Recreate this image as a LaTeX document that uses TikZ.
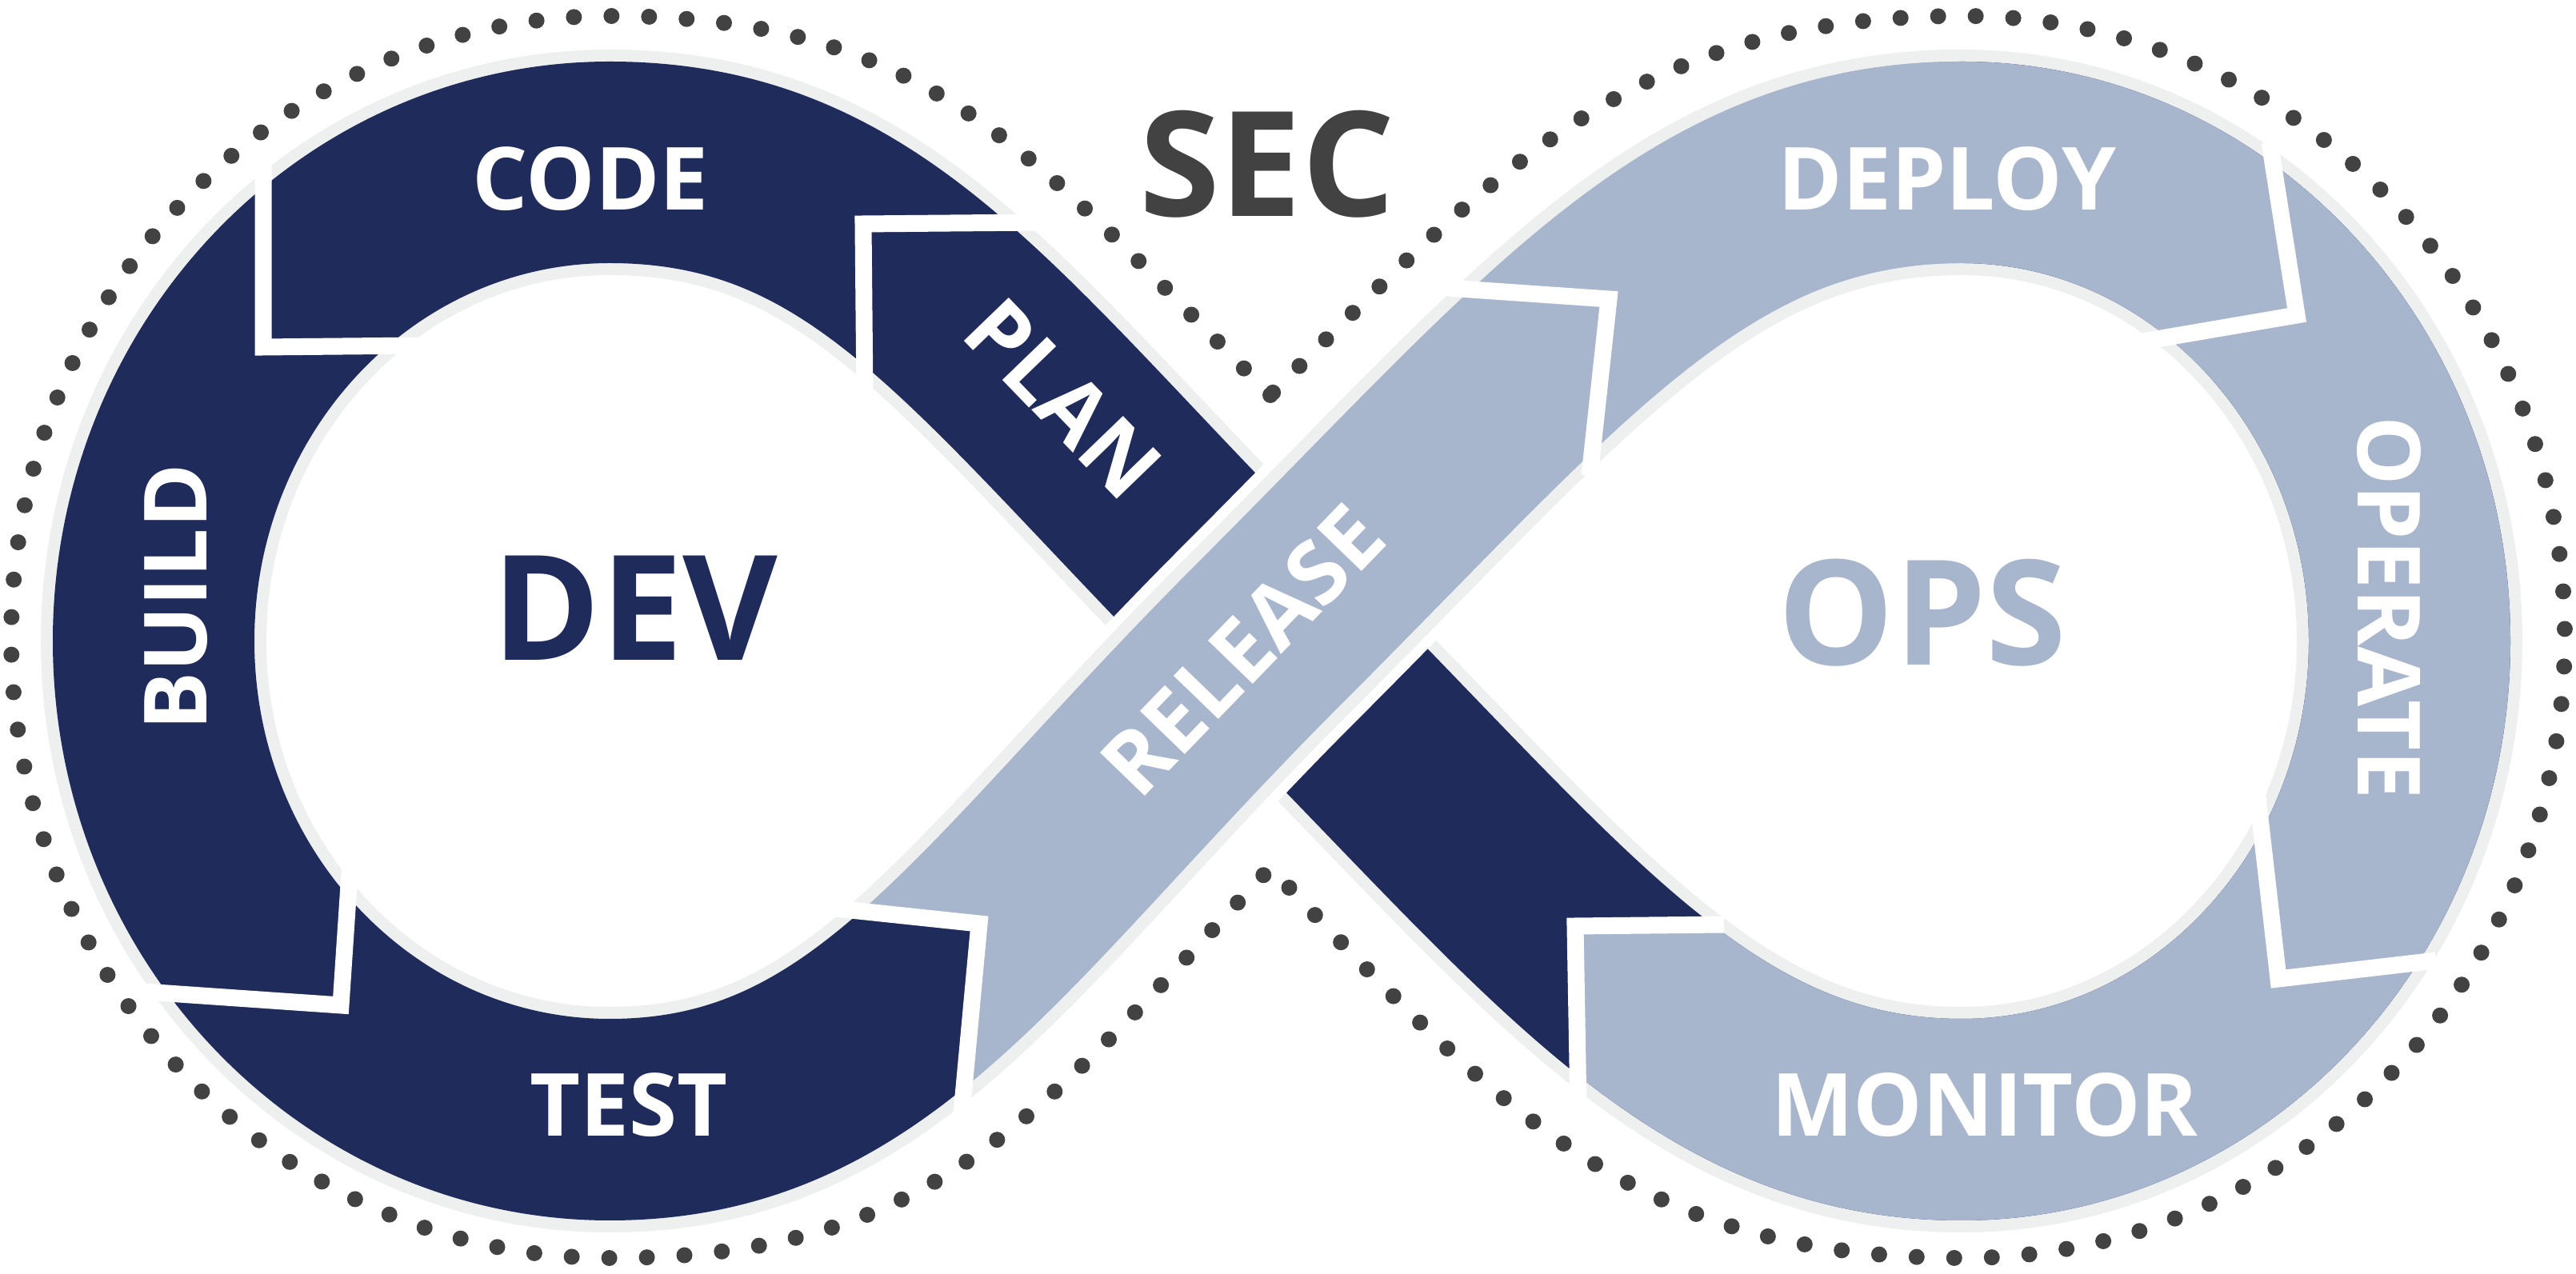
\documentclass[tikz,border=0pt]{standalone}
\usepackage{fontspec}
\setsansfont{Open Sans}
\definecolor{devnavy}{RGB}{31,43,91}
\definecolor{opsgrey}{RGB}{167,181,205}
\definecolor{rimgrey}{RGB}{238,239,239}
\definecolor{secgrey}{RGB}{66,66,66}

\begin{document}
\begin{tikzpicture}[
  steplabel/.style={text=white,inner sep=0pt,font=\sffamily\bfseries\fontsize{31}{31}\selectfont},
  hub/.style={inner sep=0pt,font=\sffamily\bfseries\fontsize{52}{52}\selectfont},
  cutline/.style={white,line width=0.21cm,line join=miter},
  band/.style={line width=2.52cm}
]
\useasboundingbox (0,0) rectangle (32.2,15.93);

% turning points of the loop
\coordinate (c) at (15.88,8.02);
\coordinate (tl) at (7.62,13.90);
\coordinate (l) at (1.92,7.915);
\coordinate (bl) at (7.62,1.93);
\coordinate (tr) at (24.52,13.90);
\coordinate (r) at (30.12,7.915);
\coordinate (br) at (24.52,1.93);

% whole loop: rim, then dark fill
\foreach \col/\wd in {rimgrey/2.82cm,devnavy/2.52cm}
  \draw[\col,line width=\wd] (c) .. controls (12.34,11.56) and (10.92,13.90) .. (tl)
    .. controls (4.47,13.90) and (1.92,11.215) .. (l)
    .. controls (1.92,4.615) and (4.47,1.93) .. (bl)
    .. controls (10.92,1.93) and (12.34,4.48) .. (c)
    .. controls (19.42,11.56) and (21.22,13.90) .. (tr)
    .. controls (27.61,13.90) and (30.12,11.215) .. (r)
    .. controls (30.12,4.615) and (27.61,1.93) .. (br)
    .. controls (21.22,1.93) and (19.42,4.48) .. cycle;

% release strand on top at the crossing
\begin{scope}
  \clip (9.0,4.72) -- (10.35,4.58) -- (12.24,4.38) -- (12.01,1.90) -- (11.97,-0.5)
    -- (33,-0.5) -- (33,16.5) -- (9.0,16.5) -- cycle;
  \begin{scope}
    \clip (c) circle (2.5);
    \draw[white,line width=3.08cm] (bl) .. controls (10.92,1.93) and (12.34,4.48) .. (c)
      .. controls (19.42,11.56) and (21.22,13.90) .. (tr);
  \end{scope}
  \foreach \col/\wd in {rimgrey/2.82cm,opsgrey/2.52cm}
    \draw[\col,line width=\wd] (bl) .. controls (10.92,1.93) and (12.34,4.48) .. (c)
      .. controls (19.42,11.56) and (21.22,13.90) .. (tr);
\end{scope}

% ops side of the loop
\begin{scope}
  \clip (19.69,4.35) -- (19.73,2.05) -- (19.75,-0.5) -- (33,-0.5) -- (33,16.5)
    -- (23.0,16.5) -- (23.0,4.39) -- (21.55,4.37) -- cycle;
  \draw[opsgrey,band] (c) .. controls (19.42,11.56) and (21.22,13.90) .. (tr)
    .. controls (27.61,13.90) and (30.12,11.215) .. (r)
    .. controls (30.12,4.615) and (27.61,1.93) .. (br)
    .. controls (21.22,1.93) and (19.42,4.48) .. (c);
\end{scope}

% borders between the stages
\draw[cutline] (10.81,10.95) -- (10.79,13.13) -- (13.00,13.15);
\draw[cutline] (3.29,13.93) -- (3.29,11.59) -- (5.30,11.61);
\draw[cutline] (1.80,3.53) -- (4.26,3.36) -- (4.38,5.16);
\draw[cutline] (10.35,4.58) -- (12.24,4.38) -- (12.01,1.90);
\draw[cutline] (17.80,12.35) -- (20.11,12.19) -- (19.87,9.98);
\draw[cutline] (28.37,14.15) -- (28.71,11.99) -- (26.55,11.62);
\draw[cutline] (28.21,6.05) -- (28.48,3.69) -- (30.45,3.92);
\draw[cutline] (21.55,4.37) -- (19.69,4.35) -- (19.73,2.05);

% stage names
\node[steplabel] (code) at (7.38,13.69) {CODE};
\node[steplabel,rotate=-46] (plan) at (13.29,10.95) {PLAN};
\node[steplabel,rotate=90] (build) at (2.20,8.46) {BUILD};
\node[steplabel] (test) at (7.86,2.11) {TEST};
\node[steplabel,rotate=46] (release) at (15.53,7.80) {RELEASE};
\node[steplabel] (deploy) at (24.34,13.69) {DEPLOY};
\node[steplabel,rotate=-90] (operate) at (29.86,8.33) {OPERATE};
\node[steplabel] (monitor) at (24.81,2.11) {MONITOR};
\node[hub,text=devnavy] (dev) at (7.94,8.33) {DEV};
\node[hub,text=opsgrey] (ops) at (24.03,8.27) {OPS};
\node[hub,text=secgrey] (sec) at (15.84,13.88) {SEC};

% dotted outline
\draw[secgrey,line width=0.2cm,line cap=round,dash pattern=on 0pt off 0.47cm]
  (15.88,10.99) .. controls (12.98,13.89) and (11.72,15.73) .. (7.62,15.73)
  .. controls (3.49,15.73) and (0.14,12.25) .. (0.14,7.965)
  .. controls (0.14,3.68) and (3.49,0.20) .. (7.62,0.20)
  .. controls (11.72,0.20) and (12.98,2.0) .. (15.88,5.08)
  .. controls (18.78,2.0) and (20.45,0.20) .. (24.55,0.20)
  .. controls (28.69,0.20) and (32.06,3.68) .. (32.06,7.965)
  .. controls (32.06,12.25) and (28.69,15.73) .. (24.55,15.73)
  .. controls (20.45,15.73) and (18.78,13.89) .. cycle;
\end{tikzpicture}
\end{document}
